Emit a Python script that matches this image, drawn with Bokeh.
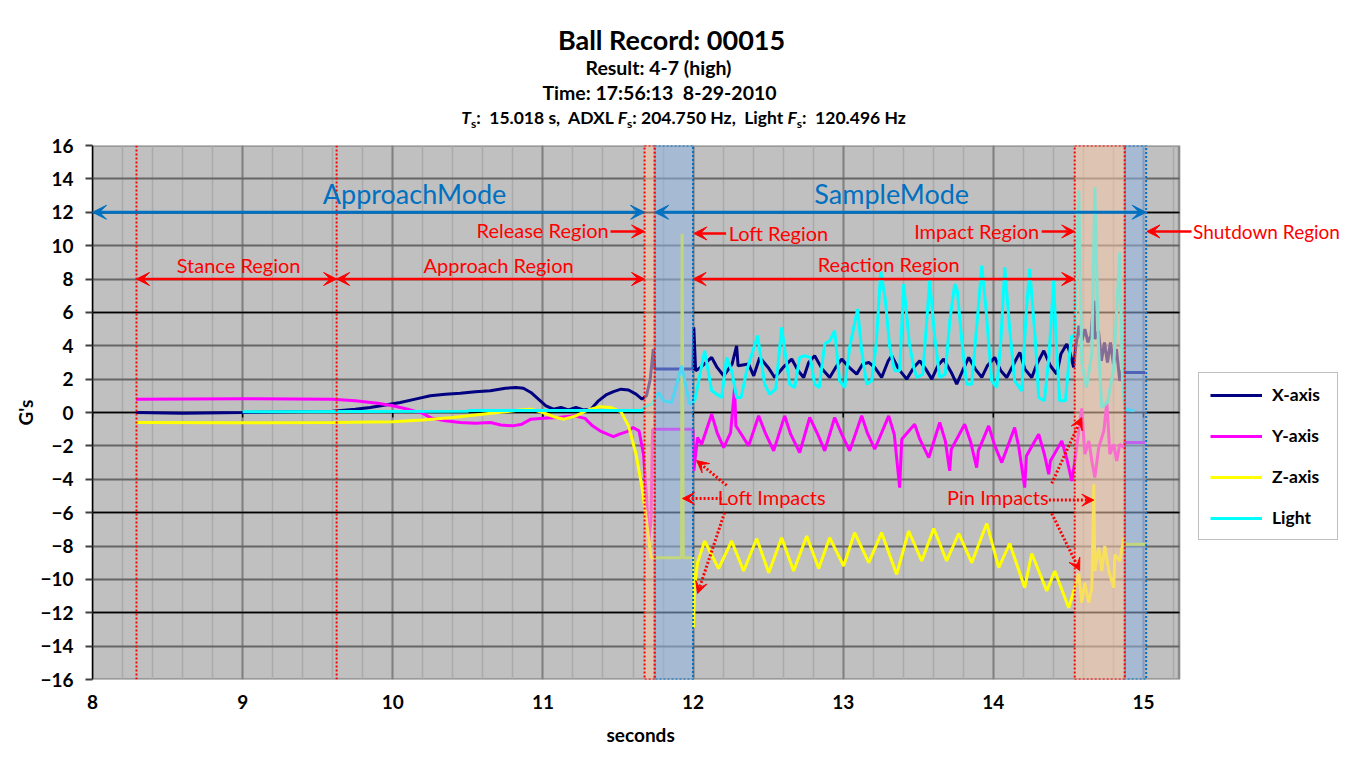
import numpy as np
from bokeh.plotting import figure
from bokeh.models import (Range1d, FixedTicker, Grid, Label, Arrow, VeeHead, Title,
                          Div, Legend, LegendItem)
from bokeh.layouts import column
from bokeh.embed import file_html
from bokeh.resources import INLINE

# ---------------- header texts ----------------
RECORD = "00015"
RESULT = "4-7 (high)"
TIME_STR = "17:56:13  8-29-2010"
TS = "15.018"
ADXL_FS = "204.750"
LIGHT_FS = "120.496"

# ---------------- axes ----------------
X_MIN, X_MAX = 8.0, 15.237          # extent of the grey plot area
Y_MIN, Y_MAX = -16, 16
X_TICKS = [8, 9, 10, 11, 12, 13, 14, 15]
Y_TICKS = [-16, -14, -12, -10, -8, -6, -4, -2, 0, 2, 4, 6, 8, 10, 12, 14, 16]
Y_MAJOR_GRID = [-12, -6, 0, 6, 12]

# ---------------- region boundaries (seconds) ----------------
STANCE_START = 8.293
APPROACH_START = 9.626
RELEASE_START = 11.677
LOFT_START = 11.744
REACTION_START = 12.0
IMPACT_START = 14.542
SHUTDOWN_START = 14.875
RECORD_END = 15.018

# ---------------- series (time s, G) ----------------
X_AXIS = [(8.29, 0.00), (8.60, -0.05), (9.00, 0.00), (9.30, 0.05), (9.60, 0.08), (9.75, 0.20),
          (9.85, 0.30), (9.95, 0.45), (10.05, 0.60), (10.15, 0.80), (10.25, 1.00), (10.35, 1.10),
          (10.45, 1.15), (10.55, 1.25), (10.65, 1.30), (10.75, 1.45), (10.82, 1.50), (10.87, 1.45),
          (10.92, 1.20), (10.97, 0.80), (11.02, 0.40), (11.07, 0.20), (11.12, 0.30), (11.17, 0.15),
          (11.22, 0.30), (11.27, 0.15), (11.32, 0.20), (11.37, 0.70), (11.42, 1.05), (11.47, 1.25),
          (11.52, 1.40), (11.57, 1.35), (11.62, 1.10), (11.66, 0.80), (11.69, 1.00), (11.715, 2.00),
          (11.735, 3.80), (11.745, 2.60), (11.999, 2.60), (12.005, 5.10), (12.017, 2.50),
          (12.05, 2.70), (12.124, 3.30), (12.16, 2.70), (12.204, 2.20), (12.26, 2.90), (12.290, 4.00),
          (12.30, 2.80), (12.370, 2.90), (12.404, 2.20), (12.444, 3.30), (12.50, 2.70), (12.544, 2.10),
          (12.60, 2.70), (12.657, 3.20), (12.70, 2.50), (12.737, 2.10), (12.77, 3.00), (12.810, 3.40),
          (12.86, 2.60), (12.910, 2.10), (12.95, 2.70), (12.990, 3.20), (13.04, 2.70), (13.090, 2.30),
          (13.13, 2.90), (13.170, 3.00), (13.21, 2.70), (13.256, 2.10), (13.30, 3.10), (13.323, 3.40),
          (13.37, 2.60), (13.423, 2.00), (13.47, 2.70), (13.510, 3.10), (13.55, 2.60), (13.590, 2.00),
          (13.63, 2.80), (13.669, 3.20), (13.72, 2.40), (13.756, 1.70), (13.80, 2.60), (13.836, 3.30),
          (13.88, 2.60), (13.923, 2.10), (13.96, 2.80), (14.009, 3.30), (14.05, 2.50), (14.089, 2.10),
          (14.13, 2.80), (14.176, 3.60), (14.21, 2.60), (14.256, 2.10), (14.29, 2.90), (14.336, 3.70),
          (14.38, 2.80), (14.422, 2.30), (14.45, 3.50), (14.489, 4.10), (14.51, 3.60), (14.535, 2.70),
          (14.55, 4.00), (14.57, 5.20), (14.59, 4.30), (14.61, 5.00), (14.63, 4.20), (14.65, 4.60),
          (14.669, 6.70), (14.676, 4.40), (14.70, 4.90), (14.72, 3.10), (14.74, 4.20), (14.76, 3.00),
          (14.78, 4.20), (14.80, 2.90), (14.82, 3.80), (14.842, 1.90), (14.86, 2.60), (14.875, 2.40),
          (15.01, 2.40)]

Y_AXIS = [(8.29, 0.80), (9.00, 0.82), (9.60, 0.80), (9.75, 0.70), (9.90, 0.55), (10.00, 0.40),
          (10.10, 0.20), (10.20, -0.05), (10.26, -0.35), (10.35, -0.50), (10.45, -0.60), (10.55, -0.65),
          (10.65, -0.60), (10.72, -0.75), (10.80, -0.80), (10.86, -0.70), (10.92, -0.40), (11.00, -0.35),
          (11.10, -0.30), (11.21, -0.20), (11.28, -0.35), (11.33, -0.80), (11.38, -1.10), (11.43, -1.30),
          (11.47, -1.45), (11.51, -1.30), (11.56, -1.15), (11.60, -0.90), (11.64, -1.10), (11.67, -2.50),
          (11.69, -5.00), (11.705, -7.70), (11.72, -6.50), (11.73, -1.00), (11.999, -1.00),
          (12.005, -3.50), (12.03, -1.50), (12.057, -1.90), (12.124, -0.10), (12.16, -1.20),
          (12.204, -2.10), (12.25, -1.20), (12.277, 1.50), (12.285, -0.80), (12.30, -1.00),
          (12.370, -2.00), (12.437, -0.20), (12.48, -1.20), (12.537, -2.30), (12.610, -0.20),
          (12.65, -1.30), (12.710, -2.40), (12.777, -0.30), (12.83, -1.30), (12.877, -2.30),
          (12.943, -0.30), (12.99, -1.30), (13.043, -2.30), (13.123, -0.20), (13.16, -1.20),
          (13.210, -2.20), (13.303, -0.20), (13.34, -1.30), (13.376, -4.50), (13.39, -1.60),
          (13.476, -0.70), (13.51, -1.60), (13.570, -2.70), (13.643, -0.60), (13.68, -1.70),
          (13.709, -3.50), (13.72, -2.20), (13.809, -0.70), (13.85, -1.80), (13.889, -3.30),
          (13.90, -2.30), (13.969, -0.80), (14.01, -2.00), (14.056, -3.00), (14.142, -0.90),
          (14.17, -2.10), (14.209, -4.50), (14.22, -2.60), (14.302, -1.30), (14.34, -2.50),
          (14.369, -3.70), (14.38, -2.90), (14.456, -1.70), (14.49, -2.80), (14.522, -4.10),
          (14.542, -3.00), (14.569, -1.10), (14.589, 0.25), (14.609, -2.50), (14.636, -1.70),
          (14.656, -2.90), (14.676, -3.90), (14.702, -2.10), (14.736, -1.10), (14.756, 0.60),
          (14.776, -2.50), (14.802, -1.90), (14.822, -2.90), (14.842, -1.90), (14.869, -2.10),
          (14.875, -1.80), (15.01, -1.80)]

Z_AXIS = [(8.29, -0.60), (9.00, -0.62), (9.60, -0.60), (10.00, -0.55), (10.20, -0.45), (10.40, -0.30),
          (10.55, -0.15), (10.70, 0.00), (10.85, 0.15), (10.92, 0.20), (11.00, 0.00), (11.07, -0.25),
          (11.14, -0.40), (11.22, -0.20), (11.30, 0.15), (11.38, 0.35), (11.45, 0.30), (11.52, 0.05),
          (11.57, -0.80), (11.62, -2.50), (11.66, -4.50), (11.69, -6.50), (11.72, -8.70),
          (11.924, -8.70), (11.927, 10.70), (11.935, -8.70), (11.999, -8.70), (12.003, -12.90),
          (12.01, -10.50), (12.03, -9.00), (12.077, -7.70), (12.170, -9.35), (12.257, -7.70),
          (12.337, -9.50), (12.424, -7.55), (12.504, -9.60), (12.590, -7.50), (12.670, -9.50),
          (12.757, -7.40), (12.837, -9.35), (12.910, -7.50), (13.003, -9.20), (13.076, -7.20),
          (13.170, -9.00), (13.256, -7.20), (13.356, -9.70), (13.436, -7.10), (13.523, -8.90),
          (13.603, -6.95), (13.689, -8.90), (13.769, -7.25), (13.856, -9.00), (13.956, -6.65),
          (14.036, -9.30), (14.109, -7.85), (14.209, -10.50), (14.256, -8.45), (14.356, -10.70),
          (14.409, -9.50), (14.502, -11.70), (14.542, -10.50), (14.569, -9.65), (14.589, -11.40),
          (14.609, -10.20), (14.636, -11.40), (14.656, -10.50), (14.669, -4.30), (14.676, -9.50),
          (14.702, -8.10), (14.722, -9.50), (14.742, -8.00), (14.769, -9.50), (14.802, -10.50),
          (14.809, -8.50), (14.842, -8.90), (14.869, -7.50), (14.875, -7.90), (15.01, -7.90)]

LIGHT = [(9.00, 0.05), (10.50, 0.08), (10.51, 0.12), (11.66, 0.12), (11.69, 0.40), (11.724, 0.50),
         (11.771, 1.20), (11.804, 0.70), (11.857, 0.60), (11.924, 2.80), (11.977, 0.50), (12.011, 0.70),
         (12.077, 3.70), (12.124, 1.30), (12.190, 0.90), (12.224, 3.30), (12.257, 2.50), (12.290, 0.90),
         (12.32, 0.90), (12.357, 2.50), (12.430, 4.60), (12.477, 1.70), (12.510, 1.10), (12.55, 1.40),
         (12.590, 5.10), (12.643, 1.70), (12.677, 1.50), (12.710, 3.30), (12.743, 3.40), (12.78, 3.30),
         (12.810, 1.70), (12.84, 1.50), (12.877, 4.10), (12.910, 4.30), (12.943, 4.90), (12.976, 1.90),
         (13.010, 1.50), (13.043, 3.90), (13.070, 5.10), (13.096, 6.20), (13.123, 3.70), (13.156, 1.70),
         (13.19, 1.90), (13.22, 4.10), (13.250, 8.50), (13.28, 6.80), (13.310, 3.90), (13.343, 2.50),
         (13.376, 2.50), (13.403, 7.70), (13.44, 4.20), (13.470, 2.70), (13.490, 2.10), (13.53, 2.30),
         (13.576, 7.90), (13.61, 4.50), (13.643, 2.10), (13.68, 2.30), (13.71, 5.50), (13.743, 7.70),
         (13.76, 7.30), (13.79, 4.30), (13.822, 1.70), (13.856, 1.70), (13.90, 6.30), (13.923, 8.80),
         (13.95, 6.30), (13.989, 1.90), (14.023, 1.50), (14.05, 4.30), (14.076, 8.70), (14.11, 4.90),
         (14.142, 1.90), (14.189, 1.30), (14.22, 6.10), (14.242, 8.60), (14.28, 4.30), (14.302, 0.90),
         (14.34, 0.70), (14.37, 3.30), (14.402, 7.90), (14.42, 4.00), (14.442, 0.70), (14.48, 0.70),
         (14.51, 3.70), (14.522, 4.60), (14.542, 4.50), (14.569, 13.30), (14.589, 3.00), (14.62, 1.50),
         (14.656, 3.50), (14.676, 13.50), (14.70, 4.00), (14.722, 0.30), (14.76, 0.60), (14.80, 2.50),
         (14.842, 9.60), (14.86, 2.00), (14.875, 0.20), (14.94, 0.10)]

SERIES = [("X-axis", X_AXIS, "#000080"), ("Y-axis", Y_AXIS, "#ff00ff"),
          ("Z-axis", Z_AXIS, "#ffff00"), ("Light", LIGHT, "#00ffff")]

RED = "#ff0000"
BLUE = "#0070c0"
FONT = "Lato"

# ---------------- page geometry ----------------
PAGE_W = 1343
HEADER_H = 130
FIG_H = 637
FRAME_LEFT = 92          # px
PX_PER_S = 150.14
FRAME_W = PAGE_W - FRAME_LEFT
X_VIEW_MAX = X_MIN + FRAME_W / PX_PER_S
XLABEL_LEFT_PX = 606     # left edge of the "seconds" caption

# ---------------- header (rich text) ----------------
sub = "<sub style='font-size:12px;line-height:0;vertical-align:-4px'>s</sub>"
header = (
    f"<div style='width:{PAGE_W}px;text-align:center;font-family:Lato;font-weight:bold;color:#000;"
    "padding-top:25px;white-space:pre;'>"
    f"<div style='font-size:27px;line-height:30px'>Ball Record: {RECORD}</div>"
    f"<div style='font-size:19.5px;line-height:25px;padding-right:26px'>Result: {RESULT}</div>"
    f"<div style='font-size:19.5px;line-height:25px;padding-right:24px'>Time: {TIME_STR}</div>"
    f"<div style='font-size:17.5px;line-height:25px;padding-left:24px'><i>T</i>{sub}:  {TS} s,  ADXL <i>F</i>{sub}: "
    f"{ADXL_FS} Hz,  Light <i>F</i>{sub}:  {LIGHT_FS} Hz</div>"
    "</div>")
div = Div(text=header, width=PAGE_W, height=HEADER_H, margin=(0, 0, 0, 0))

# ---------------- figure ----------------
p = figure(width=PAGE_W, height=FIG_H, x_range=Range1d(X_MIN, X_VIEW_MAX), y_range=Range1d(Y_MIN, Y_MAX),
           output_backend="svg", toolbar_location=None,
           min_border_left=FRAME_LEFT, min_border_right=0, min_border_top=15, min_border_bottom=88,
           background_fill_color="white", border_fill_color="white")
p.outline_line_color = None

# grey plot area
p.quad(left=[X_MIN], right=[X_MAX], bottom=[Y_MIN], top=[Y_MAX], fill_color="#c0c0c0",
       line_color="#8c8c8c", line_width=2.5, level="underlay")

minor_x = [round(v, 2) for v in np.arange(8.0, 15.21, 0.2)]
xax = p.xaxis[0]
xax.ticker = FixedTicker(ticks=X_TICKS, minor_ticks=minor_x)
xax.axis_line_color = None
xax.major_tick_out = 0
xax.major_tick_in = 0
xax.minor_tick_out = 0
xax.minor_tick_in = 0
xax.major_label_text_font = FONT
xax.major_label_text_font_style = "bold"
xax.major_label_text_font_size = "19px"
xax.major_label_text_color = "black"
xax.major_label_standoff = 15

# "seconds" placed under the grey plot area
p.add_layout(Title(text="seconds", align="left", offset=XLABEL_LEFT_PX - FRAME_LEFT,
                   text_font=FONT, text_font_style="bold", text_font_size="19px",
                   text_color="black", standoff=18), "below")

yax = p.yaxis[0]
yax.ticker = FixedTicker(ticks=Y_TICKS)
yax.axis_line_color = "black"
yax.axis_line_width = 1.5
yax.major_tick_out = 7
yax.major_tick_in = 0
yax.major_tick_line_color = "#404040"
yax.major_tick_line_width = 2
yax.minor_tick_out = 0
yax.minor_tick_in = 0
yax.major_label_text_font = FONT
yax.major_label_text_font_style = "bold"
yax.major_label_text_font_size = "19px"
yax.major_label_text_color = "black"
yax.major_label_standoff = 12
yax.axis_label = "G's"
yax.axis_label_text_font = FONT
yax.axis_label_text_font_style = "bold"
yax.axis_label_text_font_size = "19px"
yax.axis_label_text_color = "black"
yax.axis_label_standoff = 0

p.xgrid.grid_line_color = "#808080"
p.xgrid.grid_line_width = 2
p.xgrid.minor_grid_line_color = "#aaaaaa"
p.xgrid.minor_grid_line_width = 1.5

HAS_CROSS = hasattr(Grid, "cross_bounds")
if HAS_CROSS:
    p.ygrid.grid_line_color = "#666666"
    p.ygrid.grid_line_width = 2
    p.ygrid.cross_bounds = (X_MIN, X_MAX)
    p.add_layout(Grid(dimension=1, ticker=FixedTicker(ticks=Y_MAJOR_GRID), cross_bounds=(X_MIN, X_MAX),
                      grid_line_color="black", grid_line_width=1.5))
else:
    p.ygrid.grid_line_color = None
    inner = [t for t in Y_TICKS if Y_MIN < t < Y_MAX]
    p.segment(x0=X_MIN, x1=X_MAX, y0=inner, y1=inner, line_color="#666666", line_width=2, level="underlay")
    p.segment(x0=X_MIN, x1=X_MAX, y0=Y_MAJOR_GRID, y1=Y_MAJOR_GRID, line_color="black",
              line_width=1.5, level="underlay")

# small tick marks on the zero line
p.segment(x0=X_TICKS, x1=X_TICKS, y0=[0] * len(X_TICKS), y1=[-0.3] * len(X_TICKS),
          line_color="black", line_width=1.5)

# ---------------- series ----------------
items = []
for name, data, color in SERIES:
    t = [a for a, b in data]
    g = [b for a, b in data]
    r = p.line(t, g, line_color=color, line_width=3)
    items.append(LegendItem(label=name, renderers=[r]))

# ---------------- shaded regions ----------------
p.quad(left=[LOFT_START, SHUTDOWN_START], right=[REACTION_START, RECORD_END], bottom=Y_MIN, top=Y_MAX,
       fill_color="#8fb4e3", fill_alpha=0.55, line_color=BLUE, line_dash="2 2", line_width=2)
p.quad(left=[RELEASE_START, IMPACT_START], right=[LOFT_START, SHUTDOWN_START], bottom=Y_MIN, top=Y_MAX,
       fill_color="#f4c7a8", fill_alpha=0.55, line_color=RED, line_dash="2 2", line_width=2)
p.segment(x0=[STANCE_START, APPROACH_START], x1=[STANCE_START, APPROACH_START],
          y0=Y_MIN, y1=Y_MAX, line_color=RED, line_dash="2 2", line_width=2)


def head(color, size=13):
    return VeeHead(size=size, fill_color=color, line_color=color)


def arrow(x0, y0, x1, y1, color, both=False, dash="solid", width=2.5, size=13):
    p.add_layout(Arrow(start=head(color, size) if both else None, end=head(color, size),
                       x_start=x0, y_start=y0, x_end=x1, y_end=y1,
                       line_color=color, line_width=width, line_dash=dash))


def label(x, y, text, color, size="20px", align="center", **kw):
    p.add_layout(Label(x=x, y=y, text=text, text_color=color, text_font=FONT, text_font_size=size,
                       text_align=align, text_baseline="middle", **kw))


# modes
arrow(X_MIN, 12, RELEASE_START, 12, BLUE, both=True, width=3, size=14)
arrow(LOFT_START, 12, RECORD_END, 12, BLUE, both=True, width=3, size=14)
label(10.145, 13.12, "ApproachMode", BLUE, size="27px")
label(13.323, 13.12, "SampleMode", BLUE, size="27px")

# regions
arrow(STANCE_START, 8, APPROACH_START, 8, RED, both=True)
arrow(APPROACH_START, 8, RELEASE_START, 8, RED, both=True)
arrow(REACTION_START, 8, IMPACT_START, 8, RED, both=True)
label(8.973, 8.82, "Stance Region", RED)
label(10.705, 8.82, "Approach Region", RED)
label(13.303, 8.87, "Reaction Region", RED)

label(11.438, 10.95, "Release Region", RED, align="right")
arrow(11.45, 10.85, RELEASE_START, 10.85, RED)
label(12.237, 10.73, "Loft Region", RED, align="left")
arrow(12.22, 10.73, REACTION_START + 0.005, 10.73, RED)
label(13.889, 10.85, "Impact Region", RED)
arrow(14.322, 10.85, IMPACT_START, 10.85, RED)
label(15.33, 10.85, "Shutdown Region", RED, size="19px", align="left")
arrow(15.32, 10.85, RECORD_END + 0.005, 10.85, RED)

# impacts
label(12.524, -5.09, "Loft Impacts", RED)
arrow(12.19, -5.15, 11.93, -5.15, RED, dash="2 2", width=3, size=12)
arrow(12.224, -4.37, 12.024, -2.88, RED, dash="2 2", width=3, size=12)
arrow(12.21, -6.0, 12.03, -10.85, RED, dash="2 2", width=3, size=12)
label(14.03, -5.09, "Pin Impacts", RED)
arrow(14.37, -5.25, 14.669, -5.25, RED, dash="2 2", width=3, size=12)
arrow(14.389, -4.25, 14.589, -0.3, RED, dash="2 2", width=3, size=12)
arrow(14.389, -6.05, 14.575, -9.47, RED, dash="2 2", width=3, size=12)

# legend (inside the wide frame, to the right of the grey plot area)
legend = Legend(items=items, location=(1106, 139), border_line_color="#7f7f7f",
                border_line_width=1.5, background_fill_color="white", background_fill_alpha=1.0,
                label_text_font=FONT, label_text_font_style="bold", label_text_font_size="17.5px",
                label_text_color="black",
                glyph_width=52, glyph_height=20, label_height=20, label_width=54, spacing=20,
                padding=11, margin=0, label_standoff=10)
p.add_layout(legend)

layout = column(div, p, spacing=0)
open("out.html", "w").write(file_html(layout, INLINE))
